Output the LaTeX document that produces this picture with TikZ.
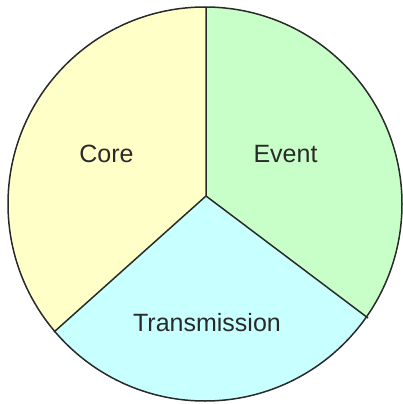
\documentclass[tikz,border=0pt]{standalone}
\usepackage{fontspec}
\setmainfont{Liberation Sans}
\usetikzlibrary{calc}
\definecolor{coreY}{HTML}{FFFFC8}
\definecolor{eventG}{HTML}{C8FFC8}
\definecolor{transC}{HTML}{C8FFFF}
\definecolor{ink}{HTML}{2A2A2A}
\tikzset{lbl/.style={inner sep=0pt, text=ink, font=\fontsize{25}{30}\selectfont}}
\begin{document}
\begin{tikzpicture}[x=1pt,y=-1pt]
\useasboundingbox (0,0) rectangle (403,404);
\coordinate (c) at (205,204);
\coordinate (v) at (206,196);
\coordinate (t) at (206,7);
\coordinate (l) at (54,332);
\coordinate (r) at (368,318);
\begin{scope}
\clip (c) circle (197);
\fill[transC] (c) circle (197);
\fill[coreY] (v) -- (t) -- (206,-10) -- (-10,-10) -- (-10,420) -- ($(v)!1.6!(l)$) -- cycle;
\fill[eventG] (v) -- (t) -- (206,-10) -- (420,-10) -- (420,420) -- ($(v)!1.6!(r)$) -- cycle;
\end{scope}
\draw[ink, line width=1.5pt] (c) circle (197);
\draw[ink, line width=1.5pt] (v) -- (t) (v) -- (l) (v) -- (r);
\node[lbl] (core) at (106.5,154) {Core};
\node[lbl] (event) at (285.5,154) {Event};
\node[lbl] (trans) at (207,323) {Transmission};
\end{tikzpicture}
\end{document}
